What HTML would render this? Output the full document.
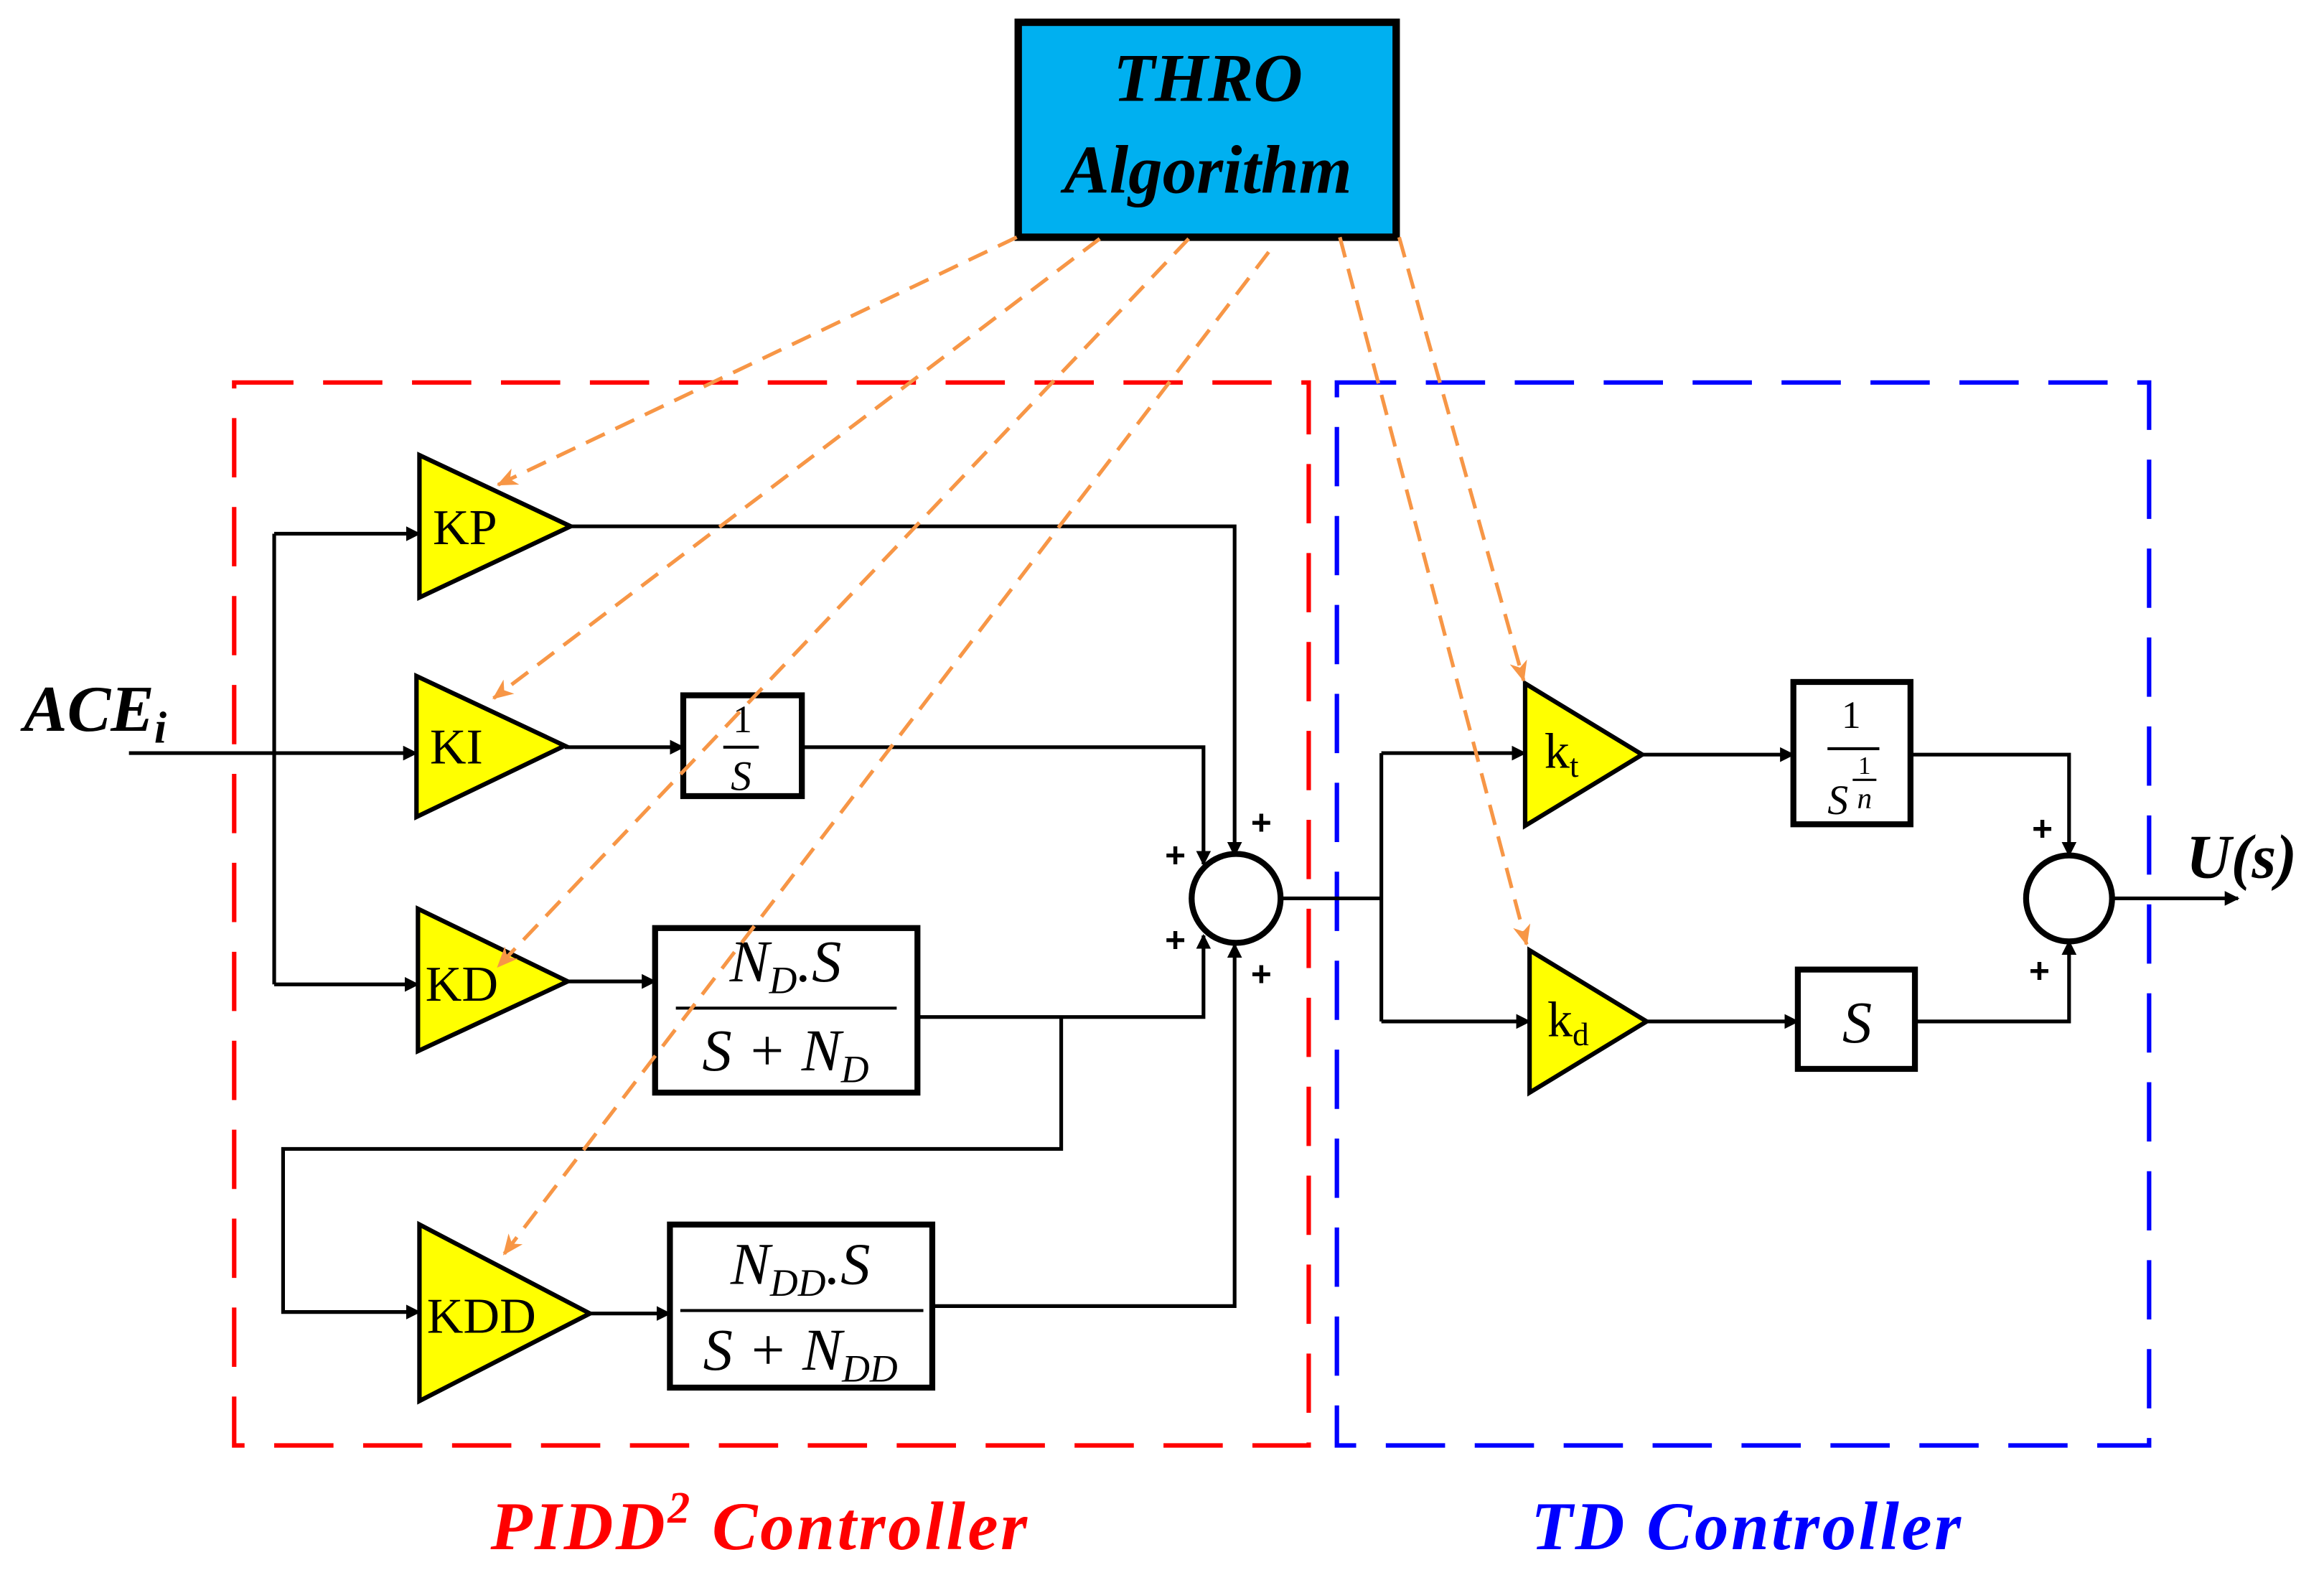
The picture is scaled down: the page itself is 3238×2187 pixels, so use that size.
<!DOCTYPE html>
<html><head><meta charset="utf-8"><style>
html,body{margin:0;padding:0;background:#fff;width:3238px;height:2187px;overflow:hidden}
svg{display:block}
.t{font-family:"Liberation Serif",serif}
</style></head><body>
<svg width="3238" height="2187" viewBox="0 0 1568 1059" xmlns="http://www.w3.org/2000/svg">
<defs>
<marker id="a" markerWidth="10" markerHeight="10" refX="9" refY="5" orient="auto" markerUnits="userSpaceOnUse"><path d="M0,0 L10,5 L0,10 Z" fill="#000"/></marker>
<marker id="o" markerWidth="14" markerHeight="12" refX="13" refY="6" orient="auto" markerUnits="userSpaceOnUse"><path d="M0,0 L14,6 L0,12 L4,6 Z" fill="#f79646"/></marker>
</defs>
<rect x="158" y="258" width="725" height="717" fill="none" stroke="#f00" stroke-width="3" stroke-dasharray="40,20"/>
<rect x="902" y="258" width="548" height="717" fill="none" stroke="#00f" stroke-width="3" stroke-dasharray="40,20"/>
<rect x="687" y="15" width="255" height="145" fill="#00b0f0" stroke="#000" stroke-width="5"/>
<text class="t" x="815" y="68" font-size="46" font-weight="bold" font-style="italic" text-anchor="middle">THRO</text>
<text class="t" x="815" y="130" font-size="46" font-weight="bold" font-style="italic" text-anchor="middle">Algorithm</text>
<g fill="none" stroke="#000" stroke-width="2.5">
<path d="M87,508 H281" marker-end="url(#a)"/>
<path d="M185,360 V664"/>
<path d="M185,360 H283" marker-end="url(#a)"/>
<path d="M185,664 H282" marker-end="url(#a)"/>
<path d="M385,355 H833 V577" marker-end="url(#a)"/>
<path d="M381,504 H461" marker-end="url(#a)"/>
<path d="M541,504 H812 V583" marker-end="url(#a)"/>
<path d="M383,662 H442" marker-end="url(#a)"/>
<path d="M619,686 H812 V631" marker-end="url(#a)"/>
<path d="M716,686 V775 H191 V885 H283" marker-end="url(#a)"/>
<path d="M398,886 H452" marker-end="url(#a)"/>
<path d="M629,881 H833 V637" marker-end="url(#a)"/>
<path d="M864,606 H932"/>
<path d="M932,508 V689"/>
<path d="M932,508 H1029" marker-end="url(#a)"/>
<path d="M932,689 H1032" marker-end="url(#a)"/>
<path d="M1108,509 H1210" marker-end="url(#a)"/>
<path d="M1289,509 H1396 V577" marker-end="url(#a)"/>
<path d="M1111,689 H1213" marker-end="url(#a)"/>
<path d="M1292,689 H1396 V635" marker-end="url(#a)"/>
<path d="M1425,606 H1510" marker-end="url(#a)"/>
</g>
<g fill="#ffff00" stroke="#000" stroke-width="3">
<path d="M283,307 L283,403 L385,355 Z"/>
<path d="M281,456 L281,551 L381,503 Z"/>
<path d="M282,613 L282,709 L383,662 Z"/>
<path d="M283,826 L283,945 L398,886 Z"/>
<path d="M1029,461 L1029,557 L1108,509 Z"/>
<path d="M1032,641 L1032,737 L1111,689 Z"/>
</g>
<g class="t" font-size="34">
<text x="292" y="367">KP</text>
<text x="290" y="515">KI</text>
<text x="287" y="675">KD</text>
<text x="288" y="899">KDD</text>
<text x="1042" y="518">k<tspan font-size="22" dy="6">t</tspan></text>
<text x="1044" y="699">k<tspan font-size="22" dy="6">d</tspan></text>
</g>
<g fill="#fff" stroke="#000" stroke-width="4">
<rect x="461" y="469" width="80" height="68"/>
<rect x="442" y="626" width="177" height="111"/>
<rect x="452" y="826" width="177" height="110"/>
<rect x="1210" y="460" width="79" height="96"/>
<rect x="1213" y="654" width="79" height="67"/>
<circle cx="834" cy="606" r="30"/>
<circle cx="1396" cy="606" r="29"/>
</g>
<g stroke="#000" stroke-width="2">
<line x1="488" y1="504" x2="512" y2="504"/>
<line x1="456" y1="680" x2="605" y2="680"/>
<line x1="459" y1="884" x2="623" y2="884"/>
<line x1="1233" y1="505" x2="1268" y2="505"/>
</g>
<g class="t" font-style="italic" font-size="40" text-anchor="middle">
<text x="501" y="494" font-size="26" font-style="normal">1</text>
<text x="500" y="533" font-size="28">S</text>
<text x="530" y="662">N<tspan font-size="26" dy="8">D</tspan><tspan dy="-8">.S</tspan></text>
<text x="530" y="722">S + N<tspan font-size="26" dy="8">D</tspan></text>
<text x="540" y="866">N<tspan font-size="26" dy="8">DD</tspan><tspan dy="-8">.S</tspan></text>
<text x="540" y="924">S + N<tspan font-size="26" dy="8">DD</tspan></text>
<text x="1249" y="491" font-size="26" font-style="normal">1</text>
<text x="1240" y="549" font-size="28">S</text>
<text x="1258" y="522" font-size="17" font-style="normal">1</text>
<line x1="1250" y1="526" x2="1266" y2="526" stroke="#000" stroke-width="1.5"/>
<text x="1258" y="545" font-size="20">n</text>
<text x="1253" y="703">S</text>
</g>
<g font-family="Liberation Sans,sans-serif" font-weight="bold" font-size="24" text-anchor="middle">
<text x="851" y="563">+</text>
<text x="793" y="585">+</text>
<text x="793" y="642">+</text>
<text x="851" y="665">+</text>
<text x="1378" y="567">+</text>
<text x="1376" y="663">+</text>
</g>
<g fill="none" stroke="#f79646" stroke-width="2.5" stroke-dasharray="14,8">
<path d="M686,160 L336,327" marker-end="url(#o)"/>
<path d="M742,161 L333,471" marker-end="url(#o)"/>
<path d="M802,161 L336,652" marker-end="url(#o)"/>
<path d="M856,170 L340,846" marker-end="url(#o)"/>
<path d="M904,160 L1030,637" marker-end="url(#o)"/>
<path d="M944,160 L1028,459" marker-end="url(#o)"/>
</g>
<text class="t" x="16" y="493" font-size="44" font-weight="bold" font-style="italic">ACE<tspan font-size="30" dy="8">i</tspan></text>
<text class="t" x="1475" y="592" font-size="42" font-weight="bold" font-style="italic">U(s)</text>
<text class="t" x="512" y="1045" font-size="46" font-weight="bold" font-style="italic" fill="#f00" text-anchor="middle" textLength="362">PIDD<tspan font-size="30" dy="-18">2</tspan><tspan dy="18"> Controller</tspan></text>
<text class="t" x="1178" y="1045" font-size="46" font-weight="bold" font-style="italic" fill="#00f" text-anchor="middle" textLength="290">TD Controller</text>
</svg>
</body></html>
